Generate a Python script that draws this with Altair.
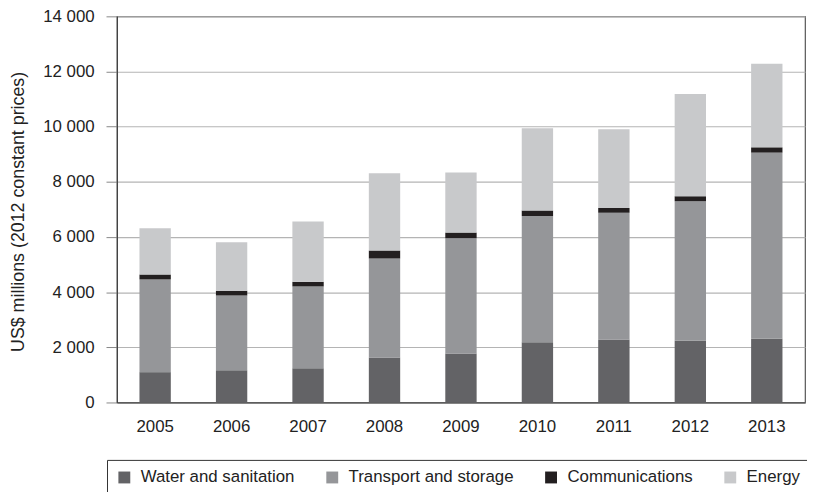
import altair as alt
import pandas as pd

years = ["2005", "2006", "2007", "2008", "2009", "2010", "2011", "2012", "2013"]
water = [1100, 1170, 1240, 1630, 1780, 2180, 2280, 2240, 2310]
transport = [3360, 2710, 2970, 3590, 4180, 4580, 4600, 5060, 6750]
comm = [180, 170, 165, 290, 200, 200, 170, 180, 190]
energy = [1680, 1760, 2190, 2800, 2180, 2980, 2860, 3700, 3030]

series = ["Water and sanitation", "Transport and storage", "Communications", "Energy"]
colors = ["#636366", "#959699", "#231f20", "#c8c9cb"]
y_ticks = [0, 2000, 4000, 6000, 8000, 10000, 12000, 14000]

rows = []
for i, y in enumerate(years):
    for k, (name, vals) in enumerate(zip(series, [water, transport, comm, energy])):
        rows.append({"year": y, "sector": name, "value": vals[i], "ord": k})
df = pd.DataFrame(rows)

FONT = "Liberation Sans"

chart = alt.Chart(df).mark_bar().encode(
    x=alt.X("year:N", title=None,
            scale=alt.Scale(paddingInner=0.59, paddingOuter=0.295),
            axis=alt.Axis(labelAngle=0, ticks=False, tickSize=0, labelPadding=16,
                          labelFontSize=17, labelFont=FONT, labelColor="#222",
                          domainColor="#444", domainWidth=1.2, grid=False)),
    y=alt.Y("value:Q", stack="zero",
            scale=alt.Scale(domain=[0, 14000], nice=False),
            axis=alt.Axis(values=y_ticks,
                          labelExpr="replace(format(datum.value, ','), ',', ' ')",
                          title="US$ millions (2012 constant prices)",
                          titleFontSize=18, titleFont=FONT, titleFontWeight="normal",
                          titleColor="#222", titleX=-94, titleY=197,
                          titleBaseline="alphabetic", titleAngle=270,
                          labelFontSize=17, labelFont=FONT, labelColor="#222",
                          tickSize=11, tickColor="#888", labelPadding=12,
                          domainColor="#444", domainWidth=1.2,
                          gridColor="#b4b4b4", gridWidth=1.2)),
    color=alt.Color("sector:N",
                    scale=alt.Scale(domain=series, range=colors),
                    legend=alt.Legend(title=None, orient="none", legendX=-10, legendY=448,
                                      direction="horizontal", columns=4,
                                      strokeColor="#333", fillColor="white", padding=9,
                                      symbolType="square", symbolSize=144,
                                      symbolStrokeWidth=0, symbolOpacity=1,
                                      labelFontSize=17, labelFont=FONT, labelColor="#222",
                                      labelLimit=400,
                                      columnPadding=29, labelOffset=8)),
    order=alt.Order("ord:Q", sort="ascending"),
).properties(
    width=695,
    height=390,
    padding={"left": 110, "top": 6, "right": 2, "bottom": 88},
    autosize=alt.AutoSizeParams(type="none"),
).configure_view(
    stroke="#555", strokeWidth=1.2
)

chart.save("out.html", embed_options={"renderer": "svg", "actions": False})
